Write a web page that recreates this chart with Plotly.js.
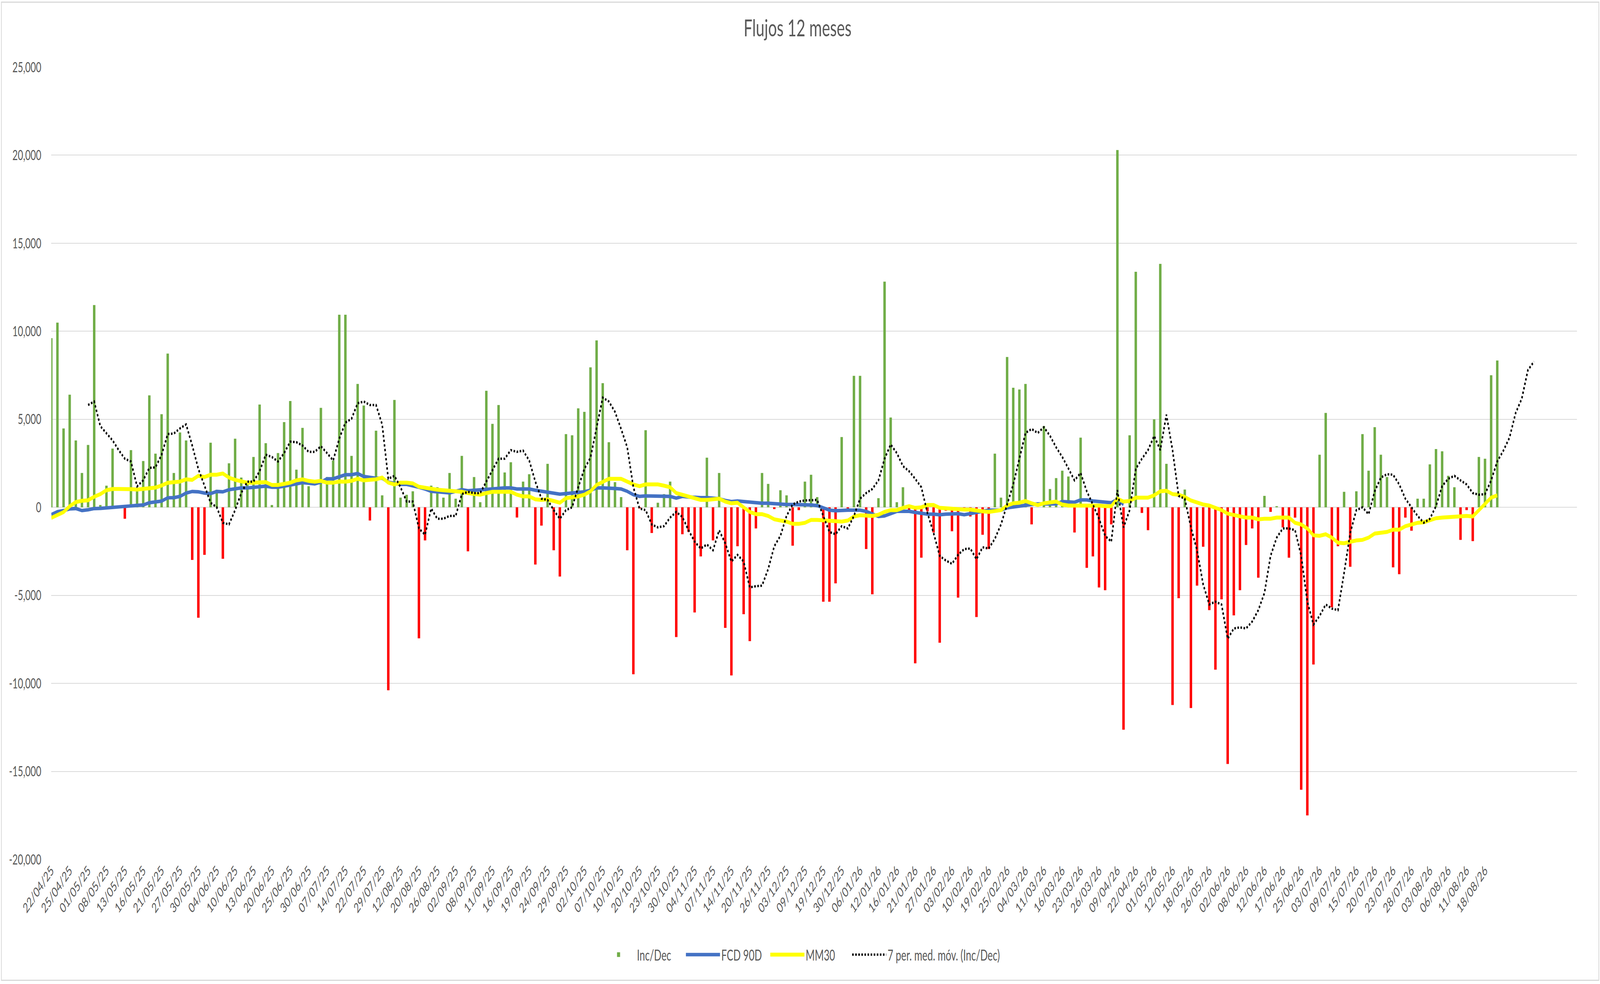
<!DOCTYPE html>
<html>
<head>
<meta charset="utf-8">
<title>Flujos 12 meses</title>
<script src="https://cdn.plot.ly/plotly-3.0.1.min.js"></script>
<style>
    html, body { margin: 0; padding: 0; background: #fff; overflow: hidden; }
    #wrap { position: absolute; left: 0; top: 0; width: 6237px; height: 2520px; transform-origin: 0 0; }
    #chart { width: 6237px; height: 2520px; }
    #frame {
        position: absolute; left: 4px; top: 4px; width: 6230px; height: 2508px;
        box-sizing: border-box; border: 3px solid #d9d9d9; pointer-events: none;
    }
</style>
</head>
<body>
<div id="wrap">
    <div id="chart"></div>
    <div id="frame"></div>
</div>
<script>
/* ═══════════════════════════════════════════
   DATA
   ═══════════════════════════════════════════ */

// one label every 3rd category, starting at the first one
const xLabels = [
    '22/04/25', '25/04/25', '01/05/25', '08/05/25', '13/05/25', '16/05/25', '21/05/25', '27/05/25',
    '30/05/25', '04/06/25', '10/06/25', '13/06/25', '20/06/25', '25/06/25', '30/06/25', '07/07/25',
    '14/07/25', '22/07/25', '29/07/25', '12/08/25', '20/08/25', '26/08/25', '02/09/25', '08/09/25',
    '11/09/25', '16/09/25', '19/09/25', '24/09/25', '29/09/25', '02/10/25', '07/10/25', '10/10/25',
    '20/10/25', '23/10/25', '30/10/25', '04/11/25', '07/11/25', '14/11/25', '20/11/25', '26/11/25',
    '03/12/25', '09/12/25', '19/12/25', '30/12/25', '06/01/26', '12/01/26', '16/01/26', '21/01/26',
    '27/01/26', '03/02/26', '10/02/26', '19/02/26', '25/02/26', '04/03/26', '11/03/26', '16/03/26',
    '23/03/26', '26/03/26', '09/04/26', '22/04/26', '01/05/26', '12/05/26', '18/05/26', '26/05/26',
    '02/06/26', '08/06/26', '12/06/26', '17/06/26', '25/06/26', '03/07/26', '09/07/26', '15/07/26',
    '20/07/26', '23/07/26', '28/07/26', '03/08/26', '06/08/26', '11/08/26', '18/08/26',
];
const LABEL_STEP = 3;
const CATEGORY_COUNT = 250;   // the axis runs on past the last bar (blank rows)

// Inc/Dec, one value per category
const incDec = [
    9610, 10490, 4480, 6400, 3800, 1950, 3540, 11490, 130, 1230,
    3340, 0, -650, 3250, 1100, 2630, 6360, 3050, 5290, 8730,
    1950, 4250, 3800, -2990, -6270, -2700, 3670, 1000, -2920, 2500,
    3900, 1690, 1300, 2860, 5840, 3640, 130, 3080, 4840, 6040,
    2140, 4510, 1200, 0, 5650, 1720, 2660, 10940, 10940, 2920,
    7010, 5780, -750, 4350, 680, -10390, 6100, 550, 710, 910,
    -7440, -1880, 1230, 1140, 550, 1950, 490, 2920, -2500, 1720,
    290, 6620, 4740, 5810, 1980, 2560, -580, 1460, 1880, -3250,
    -1040, 2470, -2440, -3930, 4160, 4090, 5620, 5420, 7950, 9480,
    7050, 3700, 1430, 580, -2440, -9480, -65, 4380, -1460, 260,
    750, 1460, -7370, -1530, -1400, -5970, -2790, 2820, -1880, 1950,
    -6850, -9550, -2210, -6070, -7600, -1200, 1950, 1330, -100, 970,
    680, -2180, -160, 1460, 1850, 580, -5360, -5360, -4320, 3990,
    -65, 7470, 7470, -2370, -4940, 520, 12820, 5100, 290, 1140,
    -160, -8860, -2860, -230, -1430, -7690, -190, -1360, -5130, -100,
    -520, -6230, -1560, -2370, 3050, 550, 8540, 6790, 6690, 7010,
    -970, 0, 4610, 1040, 1660, 2080, 1750, -1430, 3960, -3440,
    -2790, -4550, -4710, -970, 20290, -12630, 4090, 13380, -320, -1300,
    5000, 13830, 2470, -11230, -5160, 1010, -11400, -4450, -2240, -5840,
    -9220, -5230, -14580, -6140, -4710, -2140, -1200, -4000, 650, -260,
    65, -1140, -2860, -585, -16040, -17500, -8930, 2990, 5360, -5680,
    -2210, 880, -3380, 910, 4160, 2080, 4550, 2990, 1720, -3410,
    -3800, -585, -1330, 490, 490, 2440, 3310, 3180, 1790, 1140,
    -1850, -160, -1920, 2860, 2760, 7500, 8340,
];

// FCD 90D (stops around 22/04/26)
const fcd90 = [
    -410, -250, -185, -90, -70, -185, -140, -70, -60, -40,
    -15, 20, 60, 80, 110, 130, 260, 300, 355, 540,
    550, 620, 810, 900, 880, 810, 780, 900, 880, 1000,
    1070, 1100, 1100, 1140, 1170, 1200, 1140, 1140, 1200, 1270,
    1330, 1400, 1370, 1330, 1430, 1620, 1620, 1750, 1850, 1850,
    1920, 1750, 1690, 1650, 1650, 1430, 1360, 1300, 1300, 1230,
    1140, 1040, 910, 880, 850, 820, 910, 1000, 940, 970,
    970, 1040, 1070, 1100, 1100, 1100, 1040, 1040, 1040, 970,
    910, 880, 810, 750, 780, 810, 810, 880, 970, 1100,
    1100, 1100, 1070, 1040, 910, 715, 620, 650, 650, 650,
    650, 620, 520, 620, 585, 550, 550, 550, 520, 490,
    390, 325, 360, 325, 260, 230, 230, 230, 195, 195,
    160, 160, 160, 130, 130, 100, -30, -160, -195, -160,
    -160, -160, -160, -230, -360, -520, -490, -360, -230, -230,
    -230, -290, -360, -390, -390, -420, -390, -360, -360, -420,
    -360, -290, -195, -160, -160, -160, -30, 30, 65, 130,
    160, 195, 195, 195, 195, 325, 325, 290, 420, 420,
    360, 325, 290, 260, 455, 160,
];

// MM30
const mm30 = [
    -600, -440, -270, 60, 300, 370, 400, 600, 750, 970,
    1040, 1040, 1010, 1030, 1010, 1040, 1080, 1120, 1240, 1390,
    1430, 1460, 1590, 1560, 1790, 1720, 1850, 1850, 1920, 1690,
    1560, 1500, 1400, 1400, 1430, 1430, 1270, 1270, 1330, 1400,
    1530, 1590, 1500, 1460, 1500, 1400, 1400, 1460, 1460, 1500,
    1620, 1530, 1560, 1590, 1690, 1400, 1300, 1400, 1400, 1360,
    1170, 1100, 1070, 1000, 970, 940, 940, 880, 810, 780,
    715, 810, 880, 880, 880, 880, 715, 620, 620, 455,
    420, 455, 360, 260, 520, 550, 620, 715, 910, 1270,
    1460, 1620, 1620, 1620, 1460, 1300, 1200, 1300, 1300, 1300,
    1230, 1140, 810, 715, 620, 490, 420, 420, 455, 490,
    325, 230, 260, -30, -260, -390, -390, -490, -680, -750,
    -810, -940, -940, -880, -715, -715, -750, -780, -810, -810,
    -750, -520, -450, -490, -490, -420, -260, -160, -160, -30,
    65, -30, 0, 130, 130, -30, -65, -65, -130, -130,
    -130, -195, -230, -260, -230, -160, 100, 230, 260, 360,
    230, 130, 230, 290, 325, 160, 100, 100, 100, 100,
    130, 100, 65, 65, 490, 325, 360, 550, 550, 550,
    680, 910, 940, 750, 715, 585, 390, 260, 160, 100,
    -30, -160, -360, -420, -520, -585, -585, -680, -650, -650,
    -585, -585, -585, -880, -975, -1200, -1590, -1620, -1530, -1720,
    -2010, -2040, -1950, -1880, -1850, -1720, -1490, -1430, -1400, -1270,
    -1270, -1070, -975, -880, -850, -750, -620, -585, -550, -550,
    -520, -490, -520, -160, 230, 550, 680,
];

// 7 per. med. móv. (Inc/Dec) — starts at the 7th category
const MA_START = 6;
const ma7 = [
    5810, 6010, 4610, 4220, 3800, 3250, 2760, 2600, 1190, 1540,
    2240, 2270, 2980, 4160, 4190, 4480, 4710, 3510, 2180, 1230,
    260, 0, -880, -970, -160, 810, 1460, 1460, 2050, 2990,
    2860, 2600, 3080, 3730, 3700, 3510, 3150, 3150, 3470, 3080,
    2660, 3900, 4810, 5030, 5910, 6010, 5810, 5810, 4710, 1620,
    1790, 1140, 325, 325, -1200, -1560, -65, -650, -650, -490,
    -490, 750, 880, 810, 810, 1460, 2110, 2760, 2760, 3250,
    3150, 3220, 2660, 1460, 490, 420, -160, -650, -160, 0,
    1140, 2180, 2820, 4550, 6230, 6010, 5420, 4450, 3410, 1140,
    -65, -160, -975, -1140, -1070, -585, -260, -550, -1300, -1950,
    -2340, -2110, -2440, -1300, -2050, -3080, -2700, -3080, -4550, -4480,
    -4450, -3510, -2210, -1620, -490, 160, 325, 390, 390, 420,
    -490, -1400, -1530, -1070, -1200, -490, 490, 810, 1040, 1530,
    2760, 3570, 3080, 2340, 2050, 1620, 1140, -325, -1460, -2760,
    -3020, -3210, -2700, -2370, -2340, -2950, -2270, -2340, -1790, -975,
    160, 1300, 2760, 4220, 4450, 4220, 4550, 4060, 3410, 2860,
    2210, 1530, 1950, 910, 160, -650, -1620, -1950, 975, -1140,
    -160, 2180, 2760, 3250, 4060, 3250, 5260, 3250, 650, 490,
    -1140, -2440, -4380, -5520, -5360, -5520, -7470, -6880, -6820, -6880,
    -6490, -5840, -4870, -2760, -1720, -1200, -1200, -1300, -2760, -5360,
    -6660, -6170, -5520, -5750, -5840, -3730, -1460, -160, 0, -390,
    910, 1690, 1880, 1850, 1300, 490, 0, -490, -880, -650,
    65, 1200, 1620, 1790, 1530, 1300, 810, 715, 750, 1530,
    2600, 3220, 3960, 5360, 6170, 7790, 8280,
];

const yTickVals = [-20000, -15000, -10000, -5000, 0, 5000, 10000, 15000, 20000, 25000];
const yTickText = ['-20,000', '-15,000', '-10,000', '-5,000', '0', '5,000', '10,000', '15,000', '20,000', '25,000'];

/* ═══════════════════════════════════════════
   CHART
   ═══════════════════════════════════════════ */
const W = 6237, H = 2520;
const COLORS = {
    up: '#70AD47',
    down: '#FF0000',
    fcd: '#4472C4',
    mm: '#FFFF00',
    ma: '#000000',
    text: '#595959',
    grid: '#D9D9D9',
};
const FONT = 'Lato, "Open Sans", "Liberation Sans", sans-serif';

const idx = (arr, start = 0) => arr.map((_, i) => i + start);

const traces = [
    {
        type: 'bar', name: 'Inc/Dec',
        x: idx(incDec), y: incDec,
        marker: { color: incDec.map(v => (v < 0 ? COLORS.down : COLORS.up)), line: { width: 0 } },
    },
    {
        type: 'scatter', mode: 'lines', name: 'FCD 90D',
        x: idx(fcd90), y: fcd90,
        line: { color: COLORS.fcd, width: 9 },
    },
    {
        type: 'scatter', mode: 'lines', name: 'MM30',
        x: idx(mm30), y: mm30,
        line: { color: COLORS.mm, width: 10 },
    },
    {
        // own legend box so its long label is not clipped by the fixed entry width
        type: 'scatter', mode: 'lines', name: '7 per. med. móv. (Inc/Dec)', legend: 'legend2',
        x: idx(ma7, MA_START), y: ma7,
        line: { color: COLORS.ma, width: 6, dash: 'dot' },
    },
];

const legendBase = {
    orientation: 'h',
    xanchor: 'left',
    y: -0.1203, yanchor: 'middle',
    font: { family: FONT, size: 38, color: COLORS.text },
    itemwidth: 133,
    traceorder: 'normal',
    bgcolor: 'rgba(0,0,0,0)',
};

const layout = {
    width: W,
    height: H,
    margin: { l: 200, r: 90, t: 172, b: 319 },
    paper_bgcolor: '#fff',
    plot_bgcolor: '#fff',
    font: { family: FONT, size: 38, color: COLORS.text },
    title: {
        text: 'Flujos 12 meses',
        x: 0.4985, xref: 'container', xanchor: 'center',
        y: 1 - 72 / H, yref: 'container', yanchor: 'middle',
        font: { family: FONT, size: 60, color: COLORS.text },
    },
    bargap: 0.6,
    showlegend: true,
    legend: { ...legendBase, x: 0.3598, entrywidth: 181, entrywidthmode: 'pixels' },
    legend2: { ...legendBase, x: 0.5241 },
    xaxis: {
        range: [0, CATEGORY_COUNT - 1],
        tickmode: 'array',
        tickvals: xLabels.map((_, i) => i * LABEL_STEP),
        ticktext: xLabels,
        tickangle: -45,
        tickfont: { family: FONT, size: 35, color: COLORS.text },
        showgrid: false,
        zeroline: false,
        showline: false,
        ticks: '',
    },
    yaxis: {
        range: [-20000, 25000],
        tickmode: 'array',
        tickvals: yTickVals,
        ticktext: yTickText,
        tickfont: { family: FONT, size: 36, color: COLORS.text },
        gridcolor: COLORS.grid,
        gridwidth: 2,
        zeroline: true,
        zerolinecolor: COLORS.grid,
        zerolinewidth: 2,
        showline: false,
        ticks: '',
        ticklabelstandoff: 38,
    },
};

// the window may be narrower than the chart: squeeze it to fit
const sx = Math.min(1, window.innerWidth / W);
const sy = Math.min(1, window.innerHeight / H);
document.getElementById('wrap').style.transform = `scale(${sx}, ${sy})`;

Plotly.newPlot('chart', traces, layout, { staticPlot: true, displayModeBar: false });
</script>
</body>
</html>
